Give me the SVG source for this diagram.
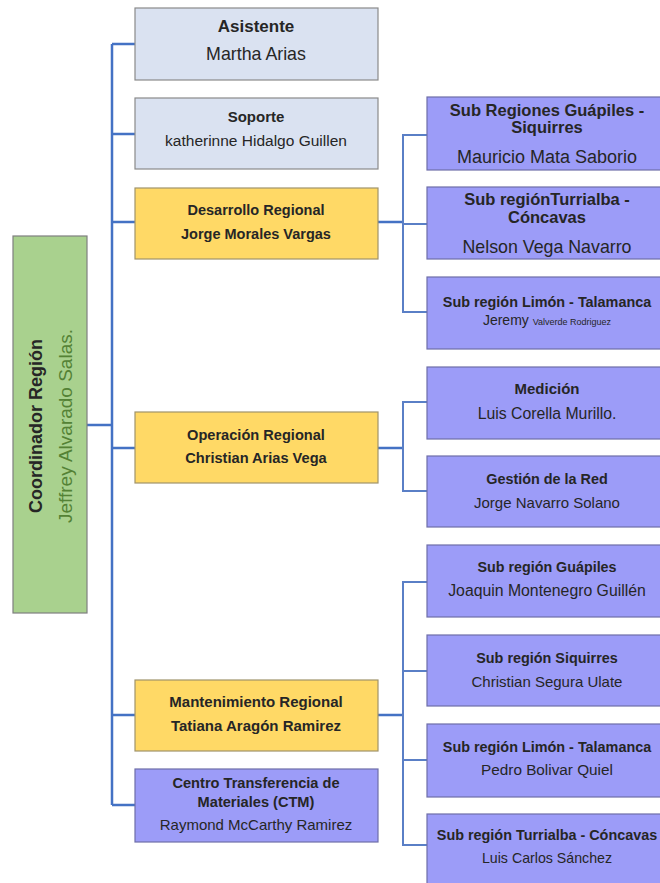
<svg xmlns="http://www.w3.org/2000/svg" width="660" height="883" viewBox="0 0 660 883">
  <style>
    text { font-family: "Liberation Sans", Arial, sans-serif; text-anchor: middle; fill: #262626; }
    .b { font-weight: bold; }
    .staff { fill: #dae2f1; stroke: #8a8a8a; stroke-width: 1.2; }
    .lead { fill: #ffd966; stroke: #a0936a; stroke-width: 1.2; }
    .unit { fill: #9c9cf8; stroke: #6e6ea8; stroke-width: 1.2; }
    .root { fill: #a9d18e; stroke: #7f7f7f; stroke-width: 1.2; }
    .link { fill: none; stroke: #4472c4; stroke-width: 2.5; }
    .sub { fill: none; stroke: #5a7fc6; stroke-width: 2; }
  </style>

  <!-- connectors -->
  <g id="connectors">
    <path class="link" d="M112 44 V805 M87 425 H112 M112 44 H135 M112 134 H135 M112 222 H135 M112 448 H135 M112 715 H135 M112 805 H135"/>
    <path class="link" d="M378 222 H403 M378 448 H403 M378 715 H403"/>
    <path class="sub" d="M427 135 H403 V312 H427 M403 224 H427"/>
    <path class="sub" d="M427 402 H403 V491 H427"/>
    <path class="sub" d="M427 582 H403 V845 H427 M403 671 H427 M403 760 H427"/>
  </g>

  <!-- coordinator -->
  <g id="coordinador">
    <rect class="root" x="13" y="236" width="74" height="377"/>
    <text class="b" font-size="18" transform="translate(42 426) rotate(-90)">Coordinador Región</text>
    <text font-size="19" transform="translate(72 426) rotate(-90)" style="fill:#548235">Jeffrey Alvarado Salas.</text>
  </g>

  <!-- direct reports -->
  <g id="asistente">
    <rect class="staff" x="135" y="8" width="243" height="72"/>
    <text class="b" x="256" y="32" font-size="17">Asistente</text>
    <text x="256" y="60" font-size="17.8">Martha Arias</text>
  </g>
  <g id="soporte">
    <rect class="staff" x="135" y="98" width="243" height="71"/>
    <text class="b" x="256" y="122" font-size="15">Soporte</text>
    <text x="256" y="146" font-size="15.5">katherinne Hidalgo Guillen</text>
  </g>
  <g id="desarrollo">
    <rect class="lead" x="135" y="188" width="243" height="71"/>
    <text class="b" x="256" y="215" font-size="14.5">Desarrollo Regional</text>
    <text class="b" x="256" y="239" font-size="14.5">Jorge Morales Vargas</text>
  </g>
  <g id="operacion">
    <rect class="lead" x="135" y="412" width="243" height="71"/>
    <text class="b" x="256" y="440" font-size="14.6">Operación Regional</text>
    <text class="b" x="256" y="463" font-size="14.6">Christian Arias Vega</text>
  </g>
  <g id="mantenimiento">
    <rect class="lead" x="135" y="680" width="243" height="71"/>
    <text class="b" x="256" y="707" font-size="15">Mantenimiento Regional</text>
    <text class="b" x="256" y="731" font-size="15">Tatiana Aragón Ramirez</text>
  </g>
  <g id="ctm">
    <rect class="unit" x="135" y="769" width="243" height="73"/>
    <text class="b" x="256" y="788" font-size="14.6">Centro Transferencia de</text>
    <text class="b" x="256" y="807" font-size="14.6">Materiales (CTM)</text>
    <text x="256" y="830" font-size="15">Raymond McCarthy Ramirez</text>
  </g>

  <!-- regional development units -->
  <g id="sub-guapiles-siquirres">
    <rect class="unit" x="427" y="97" width="240" height="73"/>
    <text class="b" x="547" y="116" font-size="16.5">Sub Regiones Guápiles -</text>
    <text class="b" x="547" y="133" font-size="16.5">Siquirres</text>
    <text x="547" y="163" font-size="18">Mauricio Mata Saborio</text>
  </g>
  <g id="sub-turrialba-concavas">
    <rect class="unit" x="427" y="187" width="240" height="72"/>
    <text class="b" x="547" y="205" font-size="16.5">Sub regiónTurrialba -</text>
    <text class="b" x="547" y="223" font-size="16.5">Cóncavas</text>
    <text x="547" y="253" font-size="17.8">Nelson Vega Navarro</text>
  </g>
  <g id="sub-limon-talamanca">
    <rect class="unit" x="427" y="277" width="240" height="72"/>
    <text class="b" x="547" y="307" font-size="14.4">Sub región Limón - Talamanca</text>
    <text x="547" y="325" font-size="14">Jeremy <tspan font-size="9">Valverde  Rodriguez</tspan></text>
  </g>

  <!-- regional operation units -->
  <g id="medicion">
    <rect class="unit" x="427" y="367" width="240" height="72"/>
    <text class="b" x="547" y="394" font-size="15">Medición</text>
    <text x="547" y="419" font-size="15.8">Luis Corella Murillo.</text>
  </g>
  <g id="gestion-red">
    <rect class="unit" x="427" y="456" width="240" height="71"/>
    <text class="b" x="547" y="484" font-size="14.4">Gestión de la Red</text>
    <text x="547" y="508" font-size="15">Jorge Navarro Solano</text>
  </g>

  <!-- regional maintenance units -->
  <g id="mant-guapiles">
    <rect class="unit" x="427" y="545" width="240" height="72"/>
    <text class="b" x="547" y="572" font-size="14.3">Sub región Guápiles</text>
    <text x="547" y="596" font-size="15.8">Joaquin Montenegro Guillén</text>
  </g>
  <g id="mant-siquirres">
    <rect class="unit" x="427" y="635" width="240" height="71"/>
    <text class="b" x="547" y="663" font-size="14.4">Sub región Siquirres</text>
    <text x="547" y="687" font-size="15">Christian Segura Ulate</text>
  </g>
  <g id="mant-limon">
    <rect class="unit" x="427" y="724" width="240" height="73"/>
    <text class="b" x="547" y="752" font-size="14.4">Sub región Limón -  Talamanca</text>
    <text x="547" y="775" font-size="15.3">Pedro Bolivar Quiel</text>
  </g>
  <g id="mant-turrialba">
    <rect class="unit" x="427" y="814" width="240" height="80"/>
    <text class="b" x="547" y="840" font-size="14.4">Sub región  Turrialba - Cóncavas</text>
    <text x="547" y="863" font-size="14.2">Luis Carlos Sánchez</text>
  </g>
</svg>
